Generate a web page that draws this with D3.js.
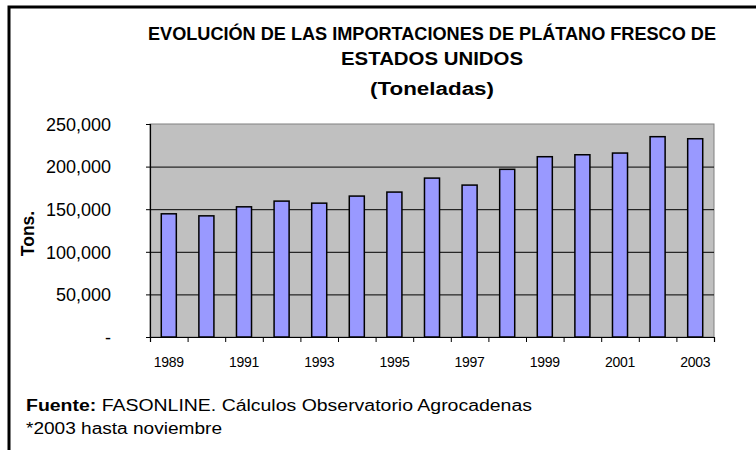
<!DOCTYPE html>
<html>
<head>
<meta charset="utf-8">
<script src="https://cdn.jsdelivr.net/npm/d3@7"></script>
<style>
  body { margin: 0; background: #fff; }
  svg text { font-family: "Liberation Sans", Arial, sans-serif; fill: #000; }
</style>
</head>
<body>
<div id="chart"></div>
<script>
// Data
const years = ['1989', '1990', '1991', '1992', '1993', '1994', '1995', '1996',
               '1997', '1998', '1999', '2000', '2001', '2002', '2003'];
const tons = [144600, 142200, 152800, 159500, 157100, 165400, 170100, 186500,
              178300, 196800, 211600, 213900, 215900, 235100, 232700];
const yTicks = [0, 50000, 100000, 150000, 200000, 250000];
const xLabelYears = ['1989', '1991', '1993', '1995', '1997', '1999', '2001', '2003'];
const titleLines = ['EVOLUCIÓN  DE LAS IMPORTACIONES DE PLÁTANO FRESCO DE', 'ESTADOS UNIDOS', '(Toneladas)'];

const W = 756, H = 450;
const plot = { left: 150, top: 124, right: 714, bottom: 337 };

const svg = d3.select('#chart')
    .append('svg')
    .attr('width', W)
    .attr('height', H);

svg.append('rect').attr('width', W).attr('height', H).attr('fill', '#fff');

// Outer frame (top and left only visible)
svg.append('path')
    .attr('d', `M9,${H} L9,7 L${W},7`)
    .attr('fill', 'none')
    .attr('stroke', '#000')
    .attr('stroke-width', 3);

// Title (Excel renders it a bit wide, so stretch to the measured widths)
const titleY = [40, 65, 95];
const titleW = [568, 182, 124];
svg.append('g').selectAll('text')
    .data(titleLines)
    .join('text')
    .attr('x', 432)
    .attr('y', (d, i) => titleY[i])
    .attr('text-anchor', 'middle')
    .attr('textLength', (d, i) => titleW[i])
    .attr('lengthAdjust', 'spacingAndGlyphs')
    .style('font-size', '18px')
    .style('font-weight', 'bold')
    .text(d => d);

// Scales
const x = d3.scaleBand()
    .domain(years)
    .range([plot.left, plot.right])
    .paddingInner(0.6)
    .paddingOuter(0.3);

const xBounds = d3.scaleLinear()
    .domain([0, years.length])
    .range([plot.left, plot.right]);

const y = d3.scaleLinear()
    .domain([0, 250000])
    .range([plot.bottom, plot.top]);

// Plot background
svg.append('rect')
    .attr('x', plot.left)
    .attr('y', plot.top)
    .attr('width', plot.right - plot.left)
    .attr('height', plot.bottom - plot.top)
    .attr('fill', '#c0c0c0')
    .attr('stroke', '#808080')
    .attr('stroke-width', 1);

// Grid lines
svg.append('g')
    .attr('transform', `translate(${plot.left},0)`)
    .call(d3.axisLeft(y).tickValues(yTicks.filter(d => d > 0 && d < 250000))
        .tickSize(-(plot.right - plot.left)).tickFormat(''))
    .call(g => g.select('.domain').remove())
    .selectAll('line')
    .attr('stroke', '#000')
    .attr('stroke-width', 1);

// Bars
svg.append('g').selectAll('rect')
    .data(years)
    .join('rect')
    .attr('x', d => x(d))
    .attr('y', (d, i) => y(tons[i]))
    .attr('width', x.bandwidth())
    .attr('height', (d, i) => y(0) - y(tons[i]))
    .attr('fill', '#9999ff')
    .attr('stroke', '#000')
    .attr('stroke-width', 1.5);

// Y axis
const yAxis = svg.append('g')
    .attr('transform', `translate(${plot.left},0)`)
    .call(d3.axisLeft(y)
        .tickValues(yTicks)
        .tickSize(4)
        .tickPadding(35)
        .tickFormat(d => d === 0 ? '-' : d3.format(',')(d)));
yAxis.select('.domain').attr('stroke', '#000').attr('stroke-width', 1.2);
yAxis.selectAll('line').attr('stroke', '#000');
yAxis.selectAll('text')
    .style('font-size', '18px')
    .style('font-family', '"Liberation Sans", Arial, sans-serif')
    .attr('dy', '0.35em');

// X axis: ticks at category boundaries
const xAxis = svg.append('g')
    .attr('transform', `translate(0,${plot.bottom})`)
    .call(d3.axisBottom(xBounds)
        .tickValues(d3.range(years.length + 1))
        .tickSize(5)
        .tickFormat(''));
xAxis.select('.domain').attr('stroke', '#000').attr('stroke-width', 1.2);
xAxis.selectAll('line').attr('stroke', '#000');

// X labels (every other year)
svg.append('g').selectAll('text')
    .data(xLabelYears)
    .join('text')
    .attr('x', d => x(d) + x.bandwidth() / 2)
    .attr('y', plot.bottom + 30)
    .attr('text-anchor', 'middle')
    .style('font-size', '14px')
    .style('letter-spacing', '-0.3px')
    .text(d => d);

// Y axis title
svg.append('text')
    .attr('transform', `translate(34,${(plot.top + plot.bottom) / 2 + 3}) rotate(-90)`)
    .attr('text-anchor', 'middle')
    .style('font-size', '17.5px')
    .style('font-weight', 'bold')
    .text('Tons.');

// Footer notes
const footer = svg.append('text')
    .attr('x', 26)
    .attr('y', 411)
    .attr('textLength', 506)
    .attr('lengthAdjust', 'spacingAndGlyphs')
    .style('font-size', '16px');
footer.append('tspan').style('font-weight', 'bold').text('Fuente: ');
footer.append('tspan').text('FASONLINE. Cálculos Observatorio Agrocadenas');

svg.append('text')
    .attr('x', 26)
    .attr('y', 434)
    .attr('textLength', 196)
    .attr('lengthAdjust', 'spacingAndGlyphs')
    .style('font-size', '16px')
    .text('*2003 hasta noviembre');
</script>
</body>
</html>
